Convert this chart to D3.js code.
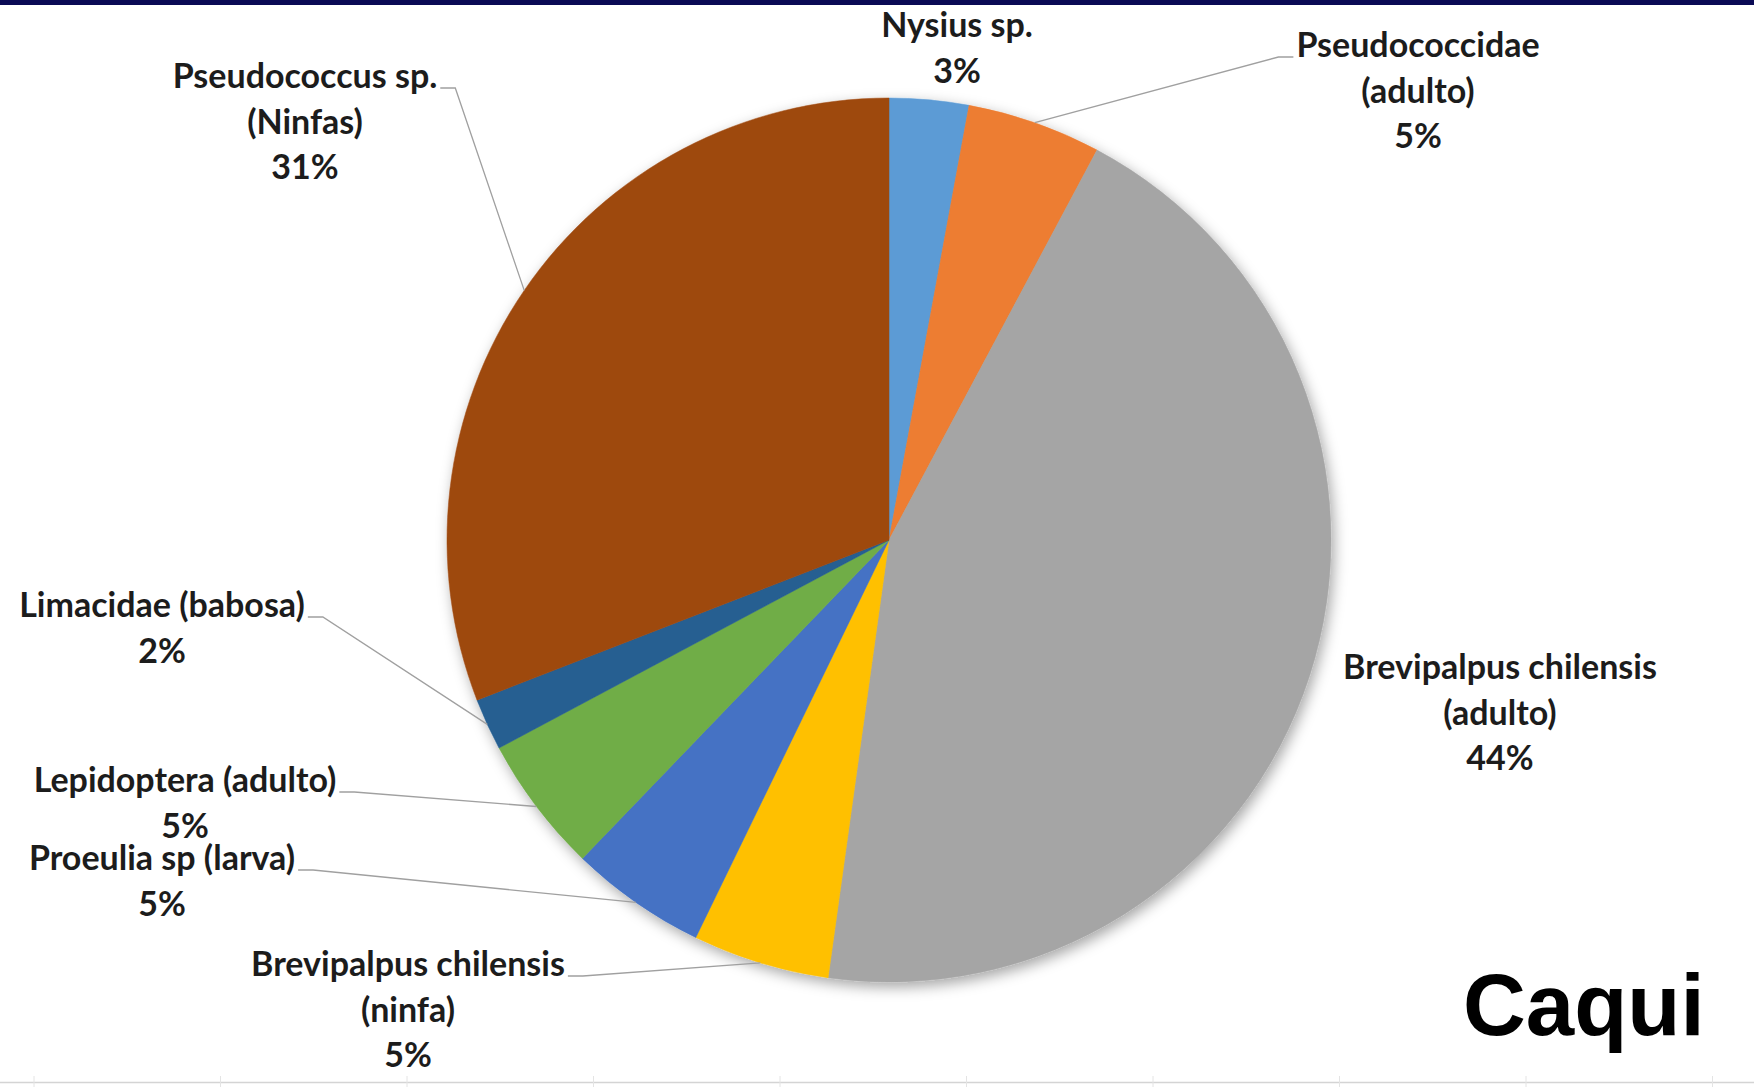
<!DOCTYPE html>
<html>
<head>
<meta charset="utf-8">
<script src="https://cdn.jsdelivr.net/npm/d3@7"></script>
<style>
  html, body { margin: 0; padding: 0; background: #fff; }
  svg { display: block; }
</style>
</head>
<body>
<svg id="chart" width="1754" height="1087"></svg>
<script>
// data (clockwise from 12 o'clock)
const categories = [
  'Nysius sp.',
  'Pseudococcidae\n(adulto)',
  'Brevipalpus chilensis\n(adulto)',
  'Brevipalpus chilensis\n(ninfa)',
  'Proeulia sp (larva)',
  'Lepidoptera (adulto)',
  'Limacidae (babosa)',
  'Pseudococcus sp.\n(Ninfas)'
];
const shares = [2.9, 4.9, 44.4, 5.0, 5.0, 5.0, 1.9, 30.9];
const colors = ['#5B9BD5', '#ED7D31', '#A5A5A5', '#FFC000', '#4472C4', '#70AD47', '#255E91', '#9E480E'];
const title = 'Caqui';

// layout of labels: center x, first line center y, leader side
const labelLayout = [
  { x: 957, y: 25, lead: null },
  { x: 1418, y: 45, lead: 'left' },
  { x: 1500, y: 667, lead: null },
  { x: 408, y: 964, lead: 'right' },
  { x: 162, y: 858, lead: 'right' },
  { x: 185, y: 780, lead: 'right' },
  { x: 162, y: 605, lead: 'right' },
  { x: 305, y: 76, lead: 'right' }
];

const width = 1754, height = 1087;
const cx = 889, cy = 540, radius = 442;
const lineGap = 45.5;

const svg = d3.select('#chart');

// top band
svg.append('rect')
  .attr('x', 0).attr('y', 0)
  .attr('width', width).attr('height', 5)
  .attr('fill', '#0a0a55');

// bottom rule with small ticks
const tickX = d3.range(0, 10).map(i => 34 + i * 186.5);
svg.append('line')
  .attr('x1', 0).attr('x2', width)
  .attr('y1', 1082.5).attr('y2', 1082.5)
  .attr('stroke', '#d4d4d4').attr('stroke-width', 1.5);
svg.append('g')
  .selectAll('line')
  .data(tickX)
  .join('line')
    .attr('x1', d => d).attr('x2', d => d)
    .attr('y1', 1076).attr('y2', 1087)
    .attr('stroke', '#e4e4e4').attr('stroke-width', 1);

// shadow
const defs = svg.append('defs');
const f = defs.append('filter').attr('id', 'shadow')
  .attr('x', '-10%').attr('y', '-10%').attr('width', '120%').attr('height', '120%');
f.append('feDropShadow')
  .attr('dx', 3).attr('dy', 5)
  .attr('stdDeviation', 7)
  .attr('flood-color', '#000')
  .attr('flood-opacity', 0.35);

const pie = d3.pie().sort(null).value(d => d)(shares);
const arc = d3.arc().innerRadius(0).outerRadius(radius);

const g = svg.append('g').attr('transform', `translate(${cx},${cy})`);
g.append('g')
  .attr('filter', 'url(#shadow)')
  .selectAll('path')
  .data(pie)
  .join('path')
    .attr('d', arc)
    .attr('fill', (d, i) => colors[i])
    .attr('stroke', (d, i) => colors[i])
    .attr('stroke-width', 0.5);

// labels
const labels = svg.append('g')
  .attr('font-family', 'Lato, "Open Sans", sans-serif')
  .attr('font-weight', 700)
  .attr('font-size', 34)
  .attr('fill', '#1c1c1c')
  .attr('text-anchor', 'middle');

const leaderG = svg.append('g')
  .attr('fill', 'none')
  .attr('stroke', '#a0a0a0')
  .attr('stroke-width', 1.3);

pie.forEach((d, i) => {
  const pos = labelLayout[i];
  const lines = categories[i].split('\n').concat([Math.round(shares[i]) + '%']);
  const t = labels.append('text');
  lines.forEach((ln, k) => {
    t.append('tspan')
      .attr('x', pos.x)
      .attr('y', pos.y + k * lineGap + 12)
      .text(ln);
  });

  if (pos.lead) {
    const first = t.select('tspan').node();
    const bb = first.getBBox();
    const mid = (d.startAngle + d.endAngle) / 2;
    const ex = cx + radius * Math.sin(mid);
    const ey = cy - radius * Math.cos(mid);
    const by = pos.y + 12;
    let sx, kx;
    if (pos.lead === 'right') {
      sx = bb.x + bb.width + 3;
      kx = sx + 15;
    } else {
      sx = bb.x - 3;
      kx = sx - 15;
    }
    leaderG.append('path')
      .attr('d', d3.line()([[sx, by], [kx, by], [ex, ey]]));
  }
});

// corner title
svg.append('text')
  .attr('x', 1463)
  .attr('y', 1035)
  .attr('font-family', '"Liberation Sans", Arial, sans-serif')
  .attr('font-weight', 700)
  .attr('font-size', 87)
  .attr('fill', '#000')
  .text(title);
</script>
</body>
</html>
